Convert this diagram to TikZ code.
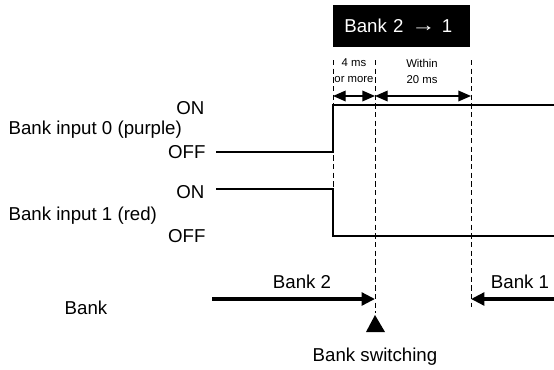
\documentclass[tikz,border=0pt]{standalone}
\usepackage{fontspec}
\setmainfont{Liberation Sans}
\usetikzlibrary{arrows.meta}
\begin{document}
\begin{tikzpicture}[x=0.75pt, y=-0.75pt,
    every node/.style={font=\fontsize{14}{16}\selectfont, inner sep=1pt},
    signal/.style={line width=1.1pt},
    guide/.style={dash pattern=on 4pt off 2.5pt, line width=0.75pt},
    dim/.style={line width=1pt, {Triangle[length=9.5pt,width=8pt]}-{Triangle[length=9.5pt,width=8pt]}},
    bankarrow/.style={line width=3.3pt, -{Triangle[length=10pt,width=9.5pt]}},
    small/.style={font=\fontsize{8.5}{12}\selectfont, align=center}]
    \useasboundingbox (0,0) rectangle (554,369);
    % heading
    \node[fill=black, text=white, inner xsep=8.5pt, text width=85.75pt, align=left,
          minimum height=31.5pt] (head) at (401.5,26) {Bank 2\hspace{6pt}\raisebox{1pt}{\scalebox{1.3}[1]{→}} 1};
    % guide lines
    \coordinate (gA) at (333,60);  \coordinate (gAe) at (333,189);
    \coordinate (gB) at (375,60);  \coordinate (gBe) at (375,313);
    \coordinate (gC) at (471,60);  \coordinate (gCe) at (471,307);
    \draw[guide] (gA) -- (gAe);
    \draw[guide] (gB) -- (gBe);
    \draw[guide] (gC) -- (gCe);
    % time spans
    \coordinate (dA) at (333,96); \coordinate (dB) at (375,96); \coordinate (dC) at (471,96);
    \draw[dim] (dA) -- (dB);
    \draw[dim] (dB) -- (dC);
    \node[small] (t4) at (354,71) {4 ms\\or more};
    \node[small] (t20) at (422,71) {Within\\20 ms};
    % bank inputs
    \node[anchor=east] (on0) at (206,108) {ON};
    \node[anchor=west] (in0) at (7,130) {Bank input 0 (purple)};
    \node[anchor=east] (off0) at (207,152) {OFF};
    \node[anchor=east] (on1) at (206,192) {ON};
    \node[anchor=west] (in1) at (7,216) {Bank input 1 (red)};
    \node[anchor=east] (off1) at (207,236) {OFF};
    \draw[signal] (216,152) -- (333,152) -- (333,105) -- (554,105);
    \draw[signal] (216,189) -- (333,189) -- (333,236) -- (554,236);
    % bank
    \node (bank) at (86,308) {Bank};
    \coordinate (b2) at (212,299); \coordinate (b2e) at (375,299);
    \coordinate (b1) at (554,299); \coordinate (b1e) at (471,299);
    \draw[bankarrow] (b2) -- (b2e);
    \draw[bankarrow] (b1) -- (b1e);
    \node (lb2) at (302,282) {Bank 2};
    \node (lb1) at (520,282) {Bank 1};
    \fill (375,315) -- (385,332) -- (366,332) -- cycle;
    \node (sw) at (375,357) {Bank switching};
\end{tikzpicture}
\end{document}
